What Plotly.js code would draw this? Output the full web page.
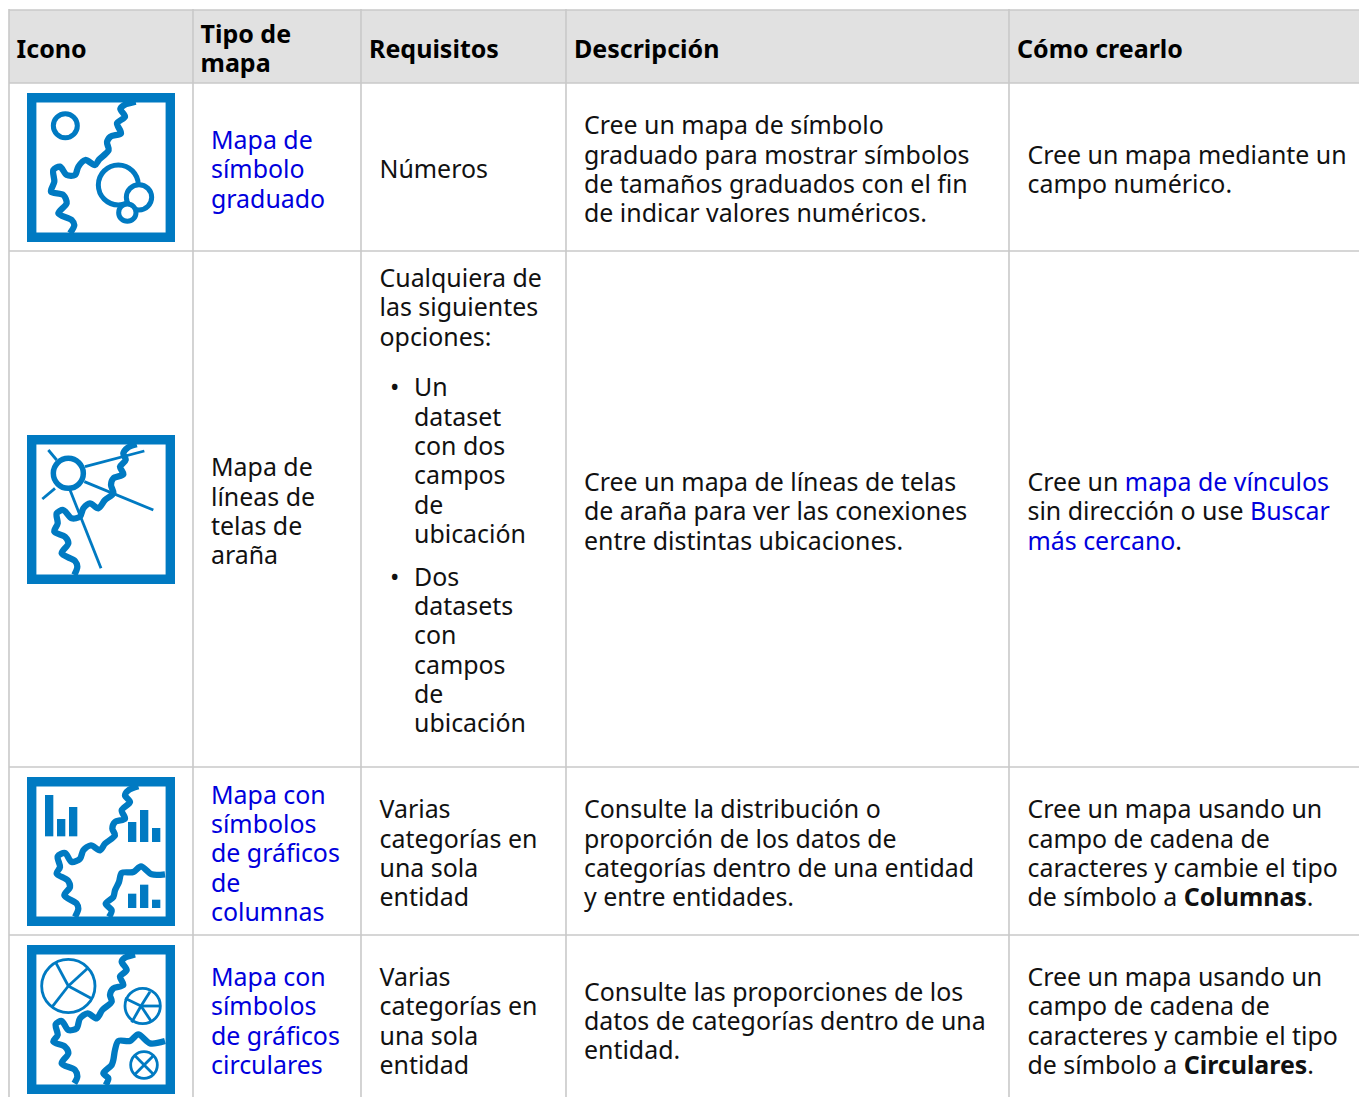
<!DOCTYPE html>
<html><head><meta charset="utf-8">
<script src="https://cdn.plot.ly/plotly-3.0.1.min.js"></script>
<style>html,body{margin:0;padding:0;background:#fff;overflow:hidden}#c{width:1359px;height:1097px}</style>
</head><body><div id="c"></div>
<script>
const LINK='#0000dd', INK='#111111', BLUE='#007ac2', GRID='#c9c9c9', HEAD='#e1e1e1';
const W=1359,H=1097;
const colEdges=[9,193,361,566,1009];
const rowEdges=[10,83,251,767,935];
const headerLines=['<b>Icono</b>','<b>Tipo de</b>','<b>mapa</b>','<b>Requisitos</b>','<b>Descripción</b>','<b>Cómo crearlo</b>'];
const headerX=[16.5,200.5,200.5,369,574,1017];
const headerY=[49,34,63,49,49,49];
const a=s=>`<span style="color:${LINK}">${s}</span>`;
const tipoLines=[a('Mapa de'),a('símbolo'),a('graduado'),'Mapa de','líneas de','telas de','araña',a('Mapa con'),a('símbolos'),a('de gráficos'),a('de'),a('columnas'),a('Mapa con'),a('símbolos'),a('de gráficos'),a('circulares')];
const tipoY=[140,169,199,467,497,526,555,795,824,853,883,912,977,1006,1036,1065];
const reqLines=['Números','Cualquiera de','las siguientes','opciones:','Varias','categorías en','una sola','entidad','Varias','categorías en','una sola','entidad'];
const reqY=[169,278,307,337,809,839,868,897,977,1006,1036,1065];
const bulletLines=['Un','dataset','con dos','campos','de','ubicación','Dos','datasets','con','campos','de','ubicación'];
const bulletY=[387,417,446,475,505,534,577,606,635,665,694,723];
const bulletMarks=['•','•'];
const bulletMarkY=[387,577];
const descLines=['Cree un mapa de símbolo','graduado para mostrar símbolos','de tamaños graduados con el fin','de indicar valores numéricos.','Cree un mapa de líneas de telas','de araña para ver las conexiones','entre distintas ubicaciones.','Consulte la distribución o','proporción de los datos de','categorías dentro de una entidad','y entre entidades.','Consulte las proporciones de los','datos de categorías dentro de una','entidad.'];
const descY=[125,155,184,213,482,511,541,809,839,868,897,992,1021,1050];
const comoLines=['Cree un mapa mediante un','campo numérico.',`Cree un ${a('mapa de vínculos')}`,`sin dirección o use ${a('Buscar')}`,`${a('más cercano')}.`,'Cree un mapa usando un','campo de cadena de','caracteres y cambie el tipo','de símbolo a <b>Columnas</b>.','Cree un mapa usando un','campo de cadena de','caracteres y cambie el tipo','de símbolo a <b>Circulares</b>.'];
const comoY=[155,184,482,511,541,809,839,868,897,977,1006,1036,1065];

// icons: drawn in 3x zoom units, relative to origin
const iconX=27;
const iconTop=[93,435,777,945];
const iconOrigin=[[36,24],[36,30],[36,30],[36,30]];
const river1=[[362,50],[328,60],[316,72],[330,95],[306,115],[318,145],[286,155],[276,172],[281,195],[252,224],[240,240],[211,225],[190,245],[180,270],[155,270],[135,245],[115,255],[118,290],[108,320],[145,330],[155,355],[130,385],[170,405],[178,420],[165,445]];
const river2=[[365,58],[338,68],[325,85],[332,105],[315,125],[325,148],[295,160],[288,180],[295,205],[270,225],[250,250],[225,235],[205,250],[195,275],[170,280],[145,255],[125,265],[128,295],[118,320],[150,335],[160,355],[140,385],[180,408],[187,425],[178,450]];
const river3=[[370,58],[340,70],[330,85],[345,105],[320,130],[330,155],[300,165],[292,185],[300,205],[270,230],[255,250],[228,235],[205,250],[195,275],[170,285],[150,258],[128,268],[135,300],[125,320],[158,340],[165,360],[148,385],[185,410],[190,425],[180,450]];
const river3b=[[450,322],[410,322],[378,298],[355,315],[320,318],[312,345],[300,370],[295,390],[272,410],[290,430],[282,450]];
const river4=[[360,58],[330,68],[320,80],[335,105],[315,125],[325,150],[295,160],[285,180],[290,200],[262,225],[245,250],[218,235],[195,250],[185,280],[160,285],[140,258],[122,268],[128,300],[115,320],[150,335],[160,355],[140,385],[180,405],[187,425],[178,445]];
const river4b=[[450,318],[405,325],[370,298],[345,318],[310,318],[300,345],[295,375],[290,390],[265,415],[280,430],[272,450]];
const rays2=[[[100,75],[125,105]],[[120,190],[82,222]],[[210,125],[388,78]],[[208,170],[415,255]],[[165,195],[258,430]]];
const spokes4=[[[122,82],[160,153]],[[218,100],[160,153]],[[228,190],[160,153]],[[112,215],[160,153]],[[330,190],[378,213]],[[405,170],[378,213]],[[350,262],[378,213]],[[408,258],[378,213]],[[435,213],[378,213]],[[360,362],[415,418]],[[415,362],[360,418]]];
// circles: icon index, cx, cy, r, stroke
const circles=[[0,151,122,36,5],[0,310,300,60,5],[0,372,337,38,5],[0,337,383,26,5],[1,160,145,45,5.5],[3,160,153,80,2.8],[3,383,213,53,2.8],[3,387,390,40,2.8]];
// bars: x0,y0,x1,y1 in icon 3
const bars3=[[90,84,115,208],[126,156,151,208],[162,120,187,208],[339,165,364,225],[375,129,400,225],[411,183,436,225],[339,380,364,423],[375,353,400,423],[411,398,436,423]];

const px=(i,v)=>iconX+(v-iconOrigin[i][0])/3;
const py=(i,v)=>iconTop[i]+(v-iconOrigin[i][1])/3;

const shapes=[];
shapes.push({type:'rect',layer:'below',x0:colEdges[0],x1:W,y0:rowEdges[0],y1:rowEdges[1],fillcolor:HEAD,line:{width:0}});
const gl={color:GRID,width:1.6};
colEdges.forEach(x=>shapes.push({type:'line',layer:'below',x0:x,x1:x,y0:rowEdges[0]-1,y1:H,line:gl}));
rowEdges.forEach(y=>shapes.push({type:'line',layer:'below',x0:colEdges[0],x1:W,y0:y,y1:y,line:gl}));
iconTop.forEach(t=>shapes.push({type:'rect',layer:'below',x0:iconX+4.7,x1:iconX+143.3,y0:t+4.7,y1:t+144.3,fillcolor:'#fff',line:{color:BLUE,width:9.4}}));
circles.forEach(([i,cx,cy,r,s])=>shapes.push({type:'circle',layer:'above',x0:px(i,cx-r),x1:px(i,cx+r),y0:py(i,cy-r),y1:py(i,cy+r),fillcolor:i===0?'#fff':'rgba(0,0,0,0)',line:{color:BLUE,width:s}}));
bars3.forEach(([a0,b0,a1,b1])=>shapes.push({type:'rect',layer:'above',x0:px(2,a0),x1:px(2,a1),y0:py(2,b0),y1:py(2,b1),fillcolor:BLUE,line:{width:0}}));

const traces=[];
const river=(i,pts)=>traces.push({type:'scatter',mode:'lines',hoverinfo:'skip',x:pts.map(p=>px(i,p[0])),y:pts.map(p=>py(i,p[1])),line:{color:BLUE,width:6.3,shape:'spline',smoothing:0.85}});
const thin=(i,pts)=>traces.push({type:'scatter',mode:'lines',hoverinfo:'skip',x:pts.map(p=>px(i,p[0])),y:pts.map(p=>py(i,p[1])),line:{color:BLUE,width:2.8}});
river(0,river1);river(1,river2);river(2,river3);river(2,river3b);river(3,river4);river(3,river4b);
rays2.forEach(r=>thin(1,r));
spokes4.forEach(r=>thin(3,r));

const FONT='"Noto Sans", "Open Sans", sans-serif', FS=24.92;
const textT=(lines,xs,ys,color,size)=>traces.push({type:'scatter',mode:'text',hoverinfo:'skip',x:xs,y:ys.map(v=>v+3),text:lines,textposition:'middle right',cliponaxis:false,textfont:{family:FONT,size:size||FS,color:color||INK}});
const same=(ys,x)=>ys.map(()=>x);
textT(headerLines,headerX,headerY,'#000',25);
textT(tipoLines,same(tipoY,211),tipoY);
textT(reqLines,same(reqY,379.5),reqY);
textT(bulletLines,same(bulletY,414),bulletY);
textT(bulletMarks,same(bulletMarkY,390),bulletMarkY);
textT(descLines,same(descY,584),descY);
textT(comoLines,same(comoY,1027.5),comoY);

Plotly.newPlot('c',traces,{
  width:W,height:H,margin:{l:0,r:0,t:0,b:0},showlegend:false,
  paper_bgcolor:'#fff',plot_bgcolor:'#fff',
  xaxis:{range:[0,W],visible:false,fixedrange:true},
  yaxis:{range:[H,0],visible:false,fixedrange:true},
  shapes
},{displayModeBar:false,staticPlot:true});
</script></body></html>
